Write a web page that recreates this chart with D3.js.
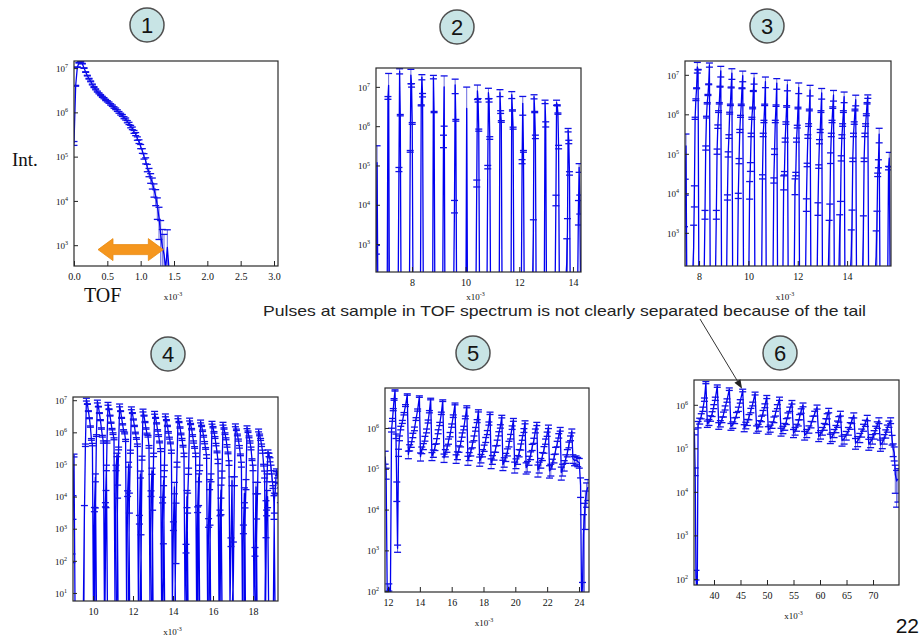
<!DOCTYPE html>
<html>
<head>
<meta charset="utf-8">
<script src="https://cdn.jsdelivr.net/npm/d3@7"></script>
<style>
  html, body { margin: 0; padding: 0; background: #fff; }
  svg { display: block; }
</style>
</head>
<body>
<svg id="slide" width="921" height="642"></svg>
<script>
// Intensities are stored as log10 values. A bin is either a number,
// [log10 value, relative error] or null for an empty bin.

// ---- (1) direct beam: single pulse ----
const tof1 = [0.000,0.025,0.050,0.075,0.100,0.125,0.150,0.175,0.200,0.225,0.250,0.275,0.300,0.325,0.350,0.375,0.400,0.425,0.450,0.475,0.500,0.525,0.550,0.575,0.600,0.625,0.650,0.675,0.700,0.725,0.750,0.775,0.800,0.825,0.850,0.875,0.900,0.925,0.950,0.975,1.000,1.025,1.050,1.075,1.100,1.125,1.150,1.175,1.200,1.225,1.250,1.275,1.300,1.325,1.350,1.375,1.400,1.425];
const int1 = [5.30,6.60,7.02,7.12,7.14,7.10,7.00,6.91,6.83,6.76,6.70,6.63,6.57,6.52,6.47,6.43,6.39,6.35,6.32,6.28,6.25,6.22,6.18,6.15,6.11,6.08,6.04,6.00,5.96,5.93,5.88,5.85,5.79,5.75,5.68,5.64,5.56,5.51,5.41,5.34,5.23,5.13,5.01,4.91,4.75,4.65,4.52,4.41,4.26,4.11,3.89,3.63,3.24,2.96,2.80,null,[2.95,1.5],null];

// ---- (2) pulse train ----
const pulseTof2 = [6.70,7.13,7.54,7.96,8.37,8.80,9.20,9.61,10.04,10.44,10.85,11.28,11.72,12.13,12.55,12.96,13.39,13.82,14.23];
const pulseInt2 = [
  [[2.87,0.25],[5.07,1.7]],
  [[6.72,0.08],[7.04,1.0]],
  [[4.9,0.12],[7.40,0.15],6.28],
  [[5.36,0.05],[7.30,0.4],[7.04,0.1],6.07],
  [6.53,[7.25,0.15],[6.79,0.1]],
  [[7.25,0.1],6.36],
  [[5.64,0.35],[7.0,0.9]],
  [[3.98,0.35],[7.05,0.4],[6.15,0.05]],
  [[6.45,2.5]],
  [[4.55,0.2],[6.9,0.4],[6.66,0.1],5.9],
  [[4.96,0.1],[6.85,0.3],[6.66,0.1],5.7],
  [[6.85,0.2],[6.36,0.08],6.12],
  [[6.8,0.2],6.4,5.95],
  [[5.1,0.12],[6.58,0.5],[5.36,0.05]],
  [3.26,[6.75,0.12],6.36,[5.73,0.1]],
  [[6.62,0.1],[6.05,0.15]],
  [[4.13,0.3],[6.6,0.15],6.53,6.32,5.47],
  [2.54,3.3,[5.9,0.1],[5.6,0.1],[4.8,0.1]],
  [3.9,[4.95,0.25],4.07]
];

// ---- (3) pulse train ----
const pulseTof3 = [7.47,7.93,8.42,8.88,9.33,9.77,10.23,10.69,11.15,11.58,12.04,12.50,12.97,13.45,13.88,14.35,14.84,15.30,15.71];
const pulseInt3 = [
  [2.57,4.2,[5.2,1.0]],
  [2.63,4.0,5.9,[6.37,0.05],6.66,[7.2,0.3],7.13],
  [[3.47,0.25],[5.15,0.12],[5.93,0.05],6.28,6.49,6.76,[7.25,0.12]],
  [[3.47,0.25],[5.06,0.15],[5.69,0.1],6.07,6.28,6.7,[7.1,0.3]],
  [[3.9,0.15],[4.99,0.15],5.44,6.03,6.24,6.68,[7.04,0.3]],
  [[3.94,0.15],[4.82,0.15],5.58,5.95,6.24,6.66,[6.98,0.3]],
  [4.13,4.68,5.48,5.90,6.16,6.59,[6.92,0.3]],
  [[4.42,0.12],5.48,5.82,6.24,[6.83,0.3]],
  [[4.33,0.15],5.06,5.82,6.22,[6.79,0.3]],
  [4.30,[4.51,0.1],5.35,5.78,6.2,[6.75,0.3]],
  [4.21,[4.49,0.1],5.35,5.69,6.16,[6.68,0.3]],
  [[3.73,0.35],[4.72,0.1],5.44,5.73,6.11,[6.62,0.3]],
  [[3.63,0.35],[4.68,0.1],5.31,5.58,6.07,[6.54,0.3]],
  [2.82,3.41,[4.91,0.3],5.48,5.82,6.17,[6.49,0.3]],
  [3.03,3.50,[4.89,0.15],5.44,5.73,6.07,[6.45,0.3]],
  [2.44,3.20,[4.85,0.1],5.48,5.78,6.11,[6.37,0.3]],
  [2.99,[4.85,0.1],5.48,5.73,5.99,6.28,[6.45,0.1]],
  [2.40,3.16,[4.47,0.1],4.76,[5.5,0.4]],
  [[4.64,0.1],[4.89,0.4]]
];

// ---- (4) pulse train with tails ----
const pulseTof4 = [9.05,9.67,10.22,10.75,11.33,11.92,12.50,13.08,13.62,14.25,14.83,15.38,15.95,16.50,17.12,17.70,18.28,18.75,19.17];
const pulseInt4 = [
  [[2.1,0.3],3.8,[5.28,0.1]],
  [3.4,5.6,[7.02,0.1],6.88,6.66,6.44,6.18,[5.78,0.06],5.62,null,[3.6,0.15],4.6],
  [3.3,5.9,[6.96,0.1],6.80,6.60,6.38,6.12,[5.88,0.06],5.70,null,[3.75,0.15],4.9],
  [4.0,5.7,[6.89,0.1],6.72,6.52,6.30,6.10,[5.96,0.06],5.80,null,4.9,5.3],
  [4.2,5.5,[6.84,0.1],6.66,6.45,6.25,6.06,[5.98,0.06],5.75,null,[4.1,0.2],5.0],
  [3.9,5.4,[6.75,0.1],6.60,6.40,6.20,5.98,[5.81,0.06],5.60,null,[3.3,0.3],4.7],
  [2.0,5.2,[6.68,0.1],6.52,6.32,6.12,5.95,[5.88,0.06],5.55,null,[4.1,0.2],4.8],
  [3.2,5.3,[6.61,0.1],6.45,6.28,6.06,5.90,[5.70,0.06],5.45,null,[3.9,0.2],4.5],
  [1.5,4.9,[6.53,0.1],6.38,6.20,6.00,5.82,[5.67,0.06],5.40,null,[3.1,0.3],4.3],
  [3.5,5.0,[6.47,0.1],6.32,6.15,5.95,5.78,[5.57,0.06],5.30,null,[2.4,0.3],4.0],
  [3.9,4.8,[6.40,0.1],6.26,6.10,5.90,5.70,[5.53,0.06],5.30,null,[3.6,0.2],4.6],
  [3.4,4.9,[6.34,0.1],6.20,6.05,5.88,5.68,[5.50,0.06],5.25,null,[3.2,0.3],4.4],
  [2.5,4.6,[6.30,0.1],6.16,6.00,5.84,5.62,[5.39,0.06],5.10,null,[3.5,0.2],4.2],
  [3.0,4.7,[6.27,0.1],6.12,5.96,5.80,5.58,[5.36,0.06],5.05,null,[2.6,0.3],4.5],
  [1.6,4.5,[6.22,0.1],6.08,5.92,5.76,5.55,[5.30,0.06],5.00,null,[3.0,0.3],4.1],
  [3.3,4.4,[6.16,0.1],6.02,5.86,5.70,5.50,[5.15,0.06],4.90,null,[2.3,0.3],4.3],
  [2.8,4.3,[6.06,0.1],5.92,5.78,5.60,5.40,[4.98,0.06],4.70,null,[3.5,0.2],4.0],
  [3.6,4.6,[5.41,0.1],5.30,5.15,4.90,4.60,[4.30,0.1],3.80],
  [3.9,4.3,[4.82,0.1],4.70,4.55,4.30,4.10]
];

// ---- (5) overlapping pulses ----
const tof5 = [11.82,11.88,11.95,12.05,12.15,12.22,12.28,12.33,12.38,12.44,
  12.50,12.55,12.60,12.66,12.72,12.80,12.90,13.00,13.10,13.21,
  13.28,13.36,13.46,13.56,13.66,13.76,13.86,13.97,
  14.04,14.12,14.22,14.32,14.42,14.52,14.60,14.68,
  14.76,14.85,14.95,15.05,15.15,15.25,15.35,15.44,
  15.52,15.60,15.70,15.80,15.90,16.00,16.10,16.21,
  16.28,16.36,16.46,16.56,16.66,16.76,16.86,16.95,
  17.02,17.10,17.20,17.30,17.40,17.50,17.60,17.68,
  17.76,17.84,17.94,18.04,18.14,18.24,18.34,18.41,
  18.48,18.56,18.66,18.76,18.86,18.96,19.06,19.15,
  19.22,19.30,19.40,19.50,19.60,19.70,19.80,19.88,
  19.96,20.04,20.14,20.24,20.34,20.44,20.54,20.61,
  20.68,20.76,20.86,20.96,21.06,21.16,21.26,21.35,
  21.42,21.50,21.60,21.70,21.80,21.90,22.00,22.08,
  22.15,22.23,22.33,22.43,22.53,22.63,22.73,22.82,
  22.89,22.97,23.07,23.17,23.27,23.37,23.47,23.55,
  23.62,23.72,23.82,23.92,24.02,24.10,24.16,24.22,24.28,24.34,24.40,24.48,24.56];
const int5 = [[5.30,0.35],[4.9,0.3],null,[2.1,0.2],null,5.95,6.2,6.45,6.7,6.92,
  5.8,[4.5,0.5],[3.05,0.2],5.4,5.75,6.0,6.15,6.35,6.55,6.82,
  5.35,5.52,5.6,5.82,5.98,6.22,6.44,6.77,
  5.3,5.46,5.55,5.74,5.93,6.16,6.4,6.71,
  5.31,5.38,5.53,5.68,5.91,6.1,6.36,6.67,
  5.27,5.39,5.49,5.67,5.84,6.06,6.29,6.59,
  5.25,5.33,5.49,5.61,5.83,6.0,6.26,6.52,
  5.21,5.31,5.41,5.59,5.75,5.97,6.17,6.42,
  5.19,5.26,5.39,5.51,5.71,5.89,6.11,6.36,
  5.14,5.23,5.32,5.49,5.64,5.86,6.04,6.28,
  5.1,5.17,5.29,5.41,5.61,5.79,6.01,6.2,
  5.05,5.14,5.23,5.39,5.54,5.76,5.94,6.14,
  5.03,5.07,5.21,5.33,5.53,5.69,5.93,6.1,
  4.97,5.05,5.15,5.31,5.47,5.67,5.85,6.03,
  4.95,4.99,5.13,5.26,5.45,5.61,5.81,5.97,
  4.91,4.99,5.09,5.25,5.39,5.59,5.75,5.93,
  5.25,5.2,5.22,5.18,5.15,4.6,null,[2.1,0.3],3.4,3.8,4.2,4.45,4.55];

// ---- (6) overlapping pulses, long flight path ----
const tof6 = [36.30,36.45,36.60,36.70,36.85,
  37.00,37.30,37.60,37.90,38.20,38.47,
  38.75,39.05,39.35,39.65,39.95,40.25,40.62,
  40.90,41.20,41.50,41.80,42.10,42.45,42.89,
  43.20,43.55,43.90,44.25,44.60,44.95,45.42,
  45.70,46.00,46.30,46.60,46.95,47.30,47.75,
  48.05,48.35,48.65,48.95,49.25,49.60,49.96,
  50.25,50.60,50.95,51.30,51.60,51.95,52.36,
  52.65,53.00,53.35,53.65,53.95,54.30,54.70,
  55.00,55.30,55.60,55.90,56.15,56.45,56.79,
  57.10,57.50,57.90,58.30,58.65,59.00,59.44,
  59.75,60.10,60.45,60.80,61.10,61.35,61.64,
  61.95,62.30,62.65,63.00,63.30,63.55,63.85,
  64.15,64.55,64.95,65.35,65.70,66.00,66.37,
  66.70,67.10,67.50,67.85,68.20,68.55,68.91,
  69.20,69.55,69.90,70.20,70.50,70.80,71.11,
  71.40,71.75,72.10,72.40,72.70,73.00,73.32,
  73.60,73.80,74.00,74.20,74.45,74.70];
const int6 = [[5.38,0.15],[4.47,0.2],[2.1,0.25],null,null,
  5.55,5.63,5.74,5.9,6.12,6.51,
  5.56,5.6,5.69,5.79,5.96,6.14,6.43,
  5.52,5.57,5.66,5.78,5.93,6.1,6.36,
  5.5,5.54,5.64,5.77,5.9,6.08,6.33,
  5.47,5.53,5.6,5.72,5.87,6.02,6.26,
  5.44,5.48,5.57,5.68,5.82,5.98,6.18,
  5.42,5.46,5.54,5.66,5.8,5.96,6.14,
  5.38,5.43,5.5,5.62,5.76,5.9,6.06,
  5.35,5.4,5.48,5.59,5.72,5.86,6.0,
  5.3,5.35,5.44,5.55,5.68,5.8,5.95,
  5.27,5.32,5.4,5.5,5.62,5.74,5.87,
  5.23,5.27,5.35,5.45,5.56,5.67,5.8,
  5.18,5.22,5.3,5.4,5.52,5.64,5.76,
  5.12,5.17,5.25,5.36,5.48,5.58,5.7,
  5.1,5.15,5.22,5.32,5.43,5.54,5.64,
  5.08,5.13,5.22,5.34,5.46,5.56,5.64,
  5.2,4.98,4.9,4.4,4.25,4.3];

// ---- axis ticks ----
const xTicks1 = [0, 0.5, 1, 1.5, 2, 2.5, 3];
const xTicks2 = [8, 10, 12, 14];
const xTicks3 = [8, 10, 12, 14];
const xTicks4 = [10, 12, 14, 16, 18];
const xTicks5 = [12, 14, 16, 18, 20, 22, 24];
const xTicks6 = [40, 45, 50, 55, 60, 65, 70];
const yExp1 = [3, 4, 5, 6, 7];
const yExp2 = [3, 4, 5, 6, 7];
const yExp3 = [3, 4, 5, 6, 7];
const yExp4 = [1, 2, 3, 4, 5, 6, 7];
const yExp5 = [2, 3, 4, 5, 6];
const yExp6 = [2, 3, 4, 5, 6];

const caption = "Pulses at sample in TOF spectrum is not clearly separated because of the tail";

// ---------------------------------------------------------------
function toPoint(x, bin) {
  if (bin == null) return { x, y: null, r: null };
  if (Array.isArray(bin)) return { x, y: Math.pow(10, bin[0]), r: bin[1] };
  return { x, y: Math.pow(10, bin), r: null };
}
function seriesPoints(xs, bins) {
  return d3.zip(xs, bins).map(([x, b]) => toPoint(x, b));
}
// bins of each pulse are placed one bin width apart, the highest bin at the pulse position
function pulsePoints(tofs, bins, bw) {
  const pts = [];
  tofs.forEach((t, i) => {
    const b = bins[i];
    let k = 0, best = -Infinity;
    b.forEach((e, j) => {
      const v = e == null ? -Infinity : (Array.isArray(e) ? e[0] : e);
      if (v > best) { best = v; k = j; }
    });
    pts.push({ x: t + (-k - 1) * bw, y: null, r: null });
    b.forEach((e, j) => pts.push(toPoint(t + (j - k) * bw, e)));
    pts.push({ x: t + (b.length - k) * bw, y: null, r: null });
  });
  return pts;
}

const panels = [
  { id: 1, frame: { x: 74, y: 61, w: 204, h: 205 }, xDom: [0, 3.06], yLog: [2.53, 7.16],
    xTicks: xTicks1, fmt: d3.format(".1f"), yExp: yExp1, counts: 2000, noteDy: 34,
    points: seriesPoints(tof1, int1), badge: [147, 25] },
  { id: 2, frame: { x: 376, y: 68, w: 205, h: 204 }, xDom: [6.66, 14.30], yLog: [2.29, 7.48],
    xTicks: xTicks2, fmt: d3.format("d"), yExp: yExp2, counts: 3000, noteDy: 28,
    points: pulsePoints(pulseTof2, pulseInt2, 0.025), badge: [457, 27] },
  { id: 3, frame: { x: 685, y: 61, w: 206, h: 205 }, xDom: [7.43, 15.78], yLog: [2.16, 7.35],
    xTicks: xTicks3, fmt: d3.format("d"), yExp: yExp3, counts: 3000, noteDy: 34,
    points: pulsePoints(pulseTof3, pulseInt3, 0.03), badge: [767, 26] },
  { id: 4, frame: { x: 73, y: 397, w: 205, h: 204 }, xDom: [9.0, 19.25], yLog: [0.75, 7.1],
    xTicks: xTicks4, fmt: d3.format("d"), yExp: yExp4, counts: 3000, noteDy: 34,
    points: pulsePoints(pulseTof4, pulseInt4, 0.05), badge: [168, 354] },
  { id: 5, frame: { x: 385, y: 388, w: 204, h: 204 }, xDom: [11.81, 24.63], yLog: [1.98, 6.98],
    xTicks: xTicks5, fmt: d3.format("d"), yExp: yExp5, counts: 10000, noteDy: 34,
    points: seriesPoints(tof5, int5), badge: [473, 353] },
  { id: 6, frame: { x: 694, y: 380, w: 205, h: 205 }, xDom: [36.23, 74.9], yLog: [1.86, 6.57],
    xTicks: xTicks6, fmt: d3.format("d"), yExp: yExp6, counts: 10000, noteDy: 34,
    points: seriesPoints(tof6, int6), badge: [780, 353] }
];

const svg = d3.select("#slide");
const serif = "'Liberation Serif','Times New Roman',serif";
const sans = "'Liberation Sans',Arial,sans-serif";
const LINE = "#0000f0", BAR = "#4646d8", CAP = "#1010e6";

function drawPanel(p) {
  const f = p.frame;
  const g = svg.append("g");
  const xs = d3.scaleLinear().domain(p.xDom).range([f.x, f.x + f.w]);
  const yMin = Math.pow(10, p.yLog[0]);
  const ys = d3.scaleLog().domain([yMin, Math.pow(10, p.yLog[1])]).range([f.y + f.h, f.y]);
  p.xs = xs; p.ys = ys;
  const base = f.y + f.h + 3;

  svg.append("clipPath").attr("id", "clip" + p.id)
    .append("rect").attr("x", f.x).attr("y", f.y).attr("width", f.w).attr("height", f.h);
  const plot = g.append("g").attr("clip-path", `url(#clip${p.id})`);

  const bars = p.points.filter(d => d.y != null).map(d => {
    const s = d.r != null ? d.r * d.y : Math.sqrt(p.counts * d.y);
    const lo = d.y - s;
    return { x: xs(d.x), top: ys(d.y + s), bot: lo > yMin ? ys(lo) : base, lowCap: lo > yMin };
  });

  plot.selectAll("line.bar").data(bars).join("line")
    .attr("x1", d => d.x).attr("x2", d => d.x)
    .attr("y1", d => d.top).attr("y2", d => d.bot)
    .attr("stroke", BAR).attr("stroke-opacity", 0.8).attr("stroke-width", 1);

  plot.append("path").datum(p.points)
    .attr("d", d3.line().x(d => xs(d.x)).y(d => d.y == null ? base : ys(d.y)))
    .attr("fill", "none").attr("stroke", LINE).attr("stroke-width", 1.3)
    .attr("stroke-linejoin", "round");

  const caps = [];
  bars.forEach(b => { caps.push({ x: b.x, y: b.top }); if (b.lowCap) caps.push({ x: b.x, y: b.bot }); });
  plot.selectAll("line.cap").data(caps).join("line")
    .attr("x1", d => d.x - 3.5).attr("x2", d => d.x + 3.5)
    .attr("y1", d => d.y).attr("y2", d => d.y)
    .attr("stroke", CAP).attr("stroke-width", 1.3);

  // axes with inward ticks
  const xa = g.append("g").attr("transform", `translate(0,${f.y + f.h})`)
    .call(d3.axisBottom(xs).tickValues(p.xTicks).tickFormat(p.fmt)
      .tickSizeInner(-5).tickSizeOuter(0).tickPadding(7));
  xa.attr("font-family", null);
  xa.select(".domain").remove();
  xa.selectAll("line").attr("stroke", "#222");
  xa.selectAll("text").style("font-family", serif).style("font-size", "10px").attr("fill", "#111");

  const ya = g.append("g").attr("transform", `translate(${f.x},0)`)
    .call(d3.axisLeft(ys).tickValues(p.yExp.map(e => Math.pow(10, e)))
      .tickSizeInner(-4).tickSizeOuter(0).tickPadding(6).tickFormat(() => ""));
  ya.attr("font-family", null);
  ya.select(".domain").remove();
  ya.selectAll("line").attr("stroke", "#222");
  ya.selectAll("text").each(function (d) {
    const t = d3.select(this).style("font-family", serif).attr("fill", "#111");
    t.append("tspan").style("font-size", "9px").text("10");
    t.append("tspan").style("font-size", "6px").attr("dy", "-0.6em").text(Math.round(Math.log10(d)));
  });

  g.append("rect").attr("x", f.x).attr("y", f.y).attr("width", f.w).attr("height", f.h)
    .attr("fill", "none").attr("stroke", "#2a2a2a").attr("stroke-width", 1.2);

  // x10^-3 scale note
  const note = g.append("text").attr("x", f.x + f.w / 2 - 3).attr("y", f.y + f.h + p.noteDy)
    .attr("text-anchor", "middle").style("font-family", serif).attr("fill", "#111");
  note.append("tspan").style("font-size", "9px").text("x10");
  note.append("tspan").style("font-size", "6px").attr("dy", "-0.7em").text("-3");

  // numbered badge
  svg.append("circle").attr("cx", p.badge[0]).attr("cy", p.badge[1]).attr("r", 17)
    .attr("fill", "#c8e4e5").attr("stroke", "#505050").attr("stroke-width", 1.5);
  svg.append("text").attr("x", p.badge[0]).attr("y", p.badge[1] + 8)
    .attr("text-anchor", "middle").style("font-family", sans).style("font-size", "22px")
    .attr("fill", "#151515").text(p.id);
}

panels.forEach(drawPanel);

// orange range arrow in the first panel (TOF 0.36 .. 1.34, at 10^2.9)
(function () {
  const p = panels[0];
  const x0 = p.xs(0.36), x1 = p.xs(1.34), y = p.ys(Math.pow(10, 2.9));
  const hl = 15, bh = 5, hh = 11;
  const pts = [[x0, y], [x0 + hl, y - hh], [x0 + hl, y - bh], [x1 - hl, y - bh], [x1 - hl, y - hh],
    [x1, y], [x1 - hl, y + hh], [x1 - hl, y + bh], [x0 + hl, y + bh], [x0 + hl, y + hh]];
  svg.append("polygon").attr("points", pts.map(q => q.join(",")).join(" "))
    .attr("fill", "#f5961e").attr("stroke", "#e98a10").attr("stroke-width", 0.8);
})();

// side labels
svg.append("text").attr("x", 12).attr("y", 166).style("font-family", serif)
  .style("font-size", "19px").attr("fill", "#111").text("Int.");
svg.append("text").attr("x", 84).attr("y", 302).style("font-family", serif)
  .style("font-size", "20px").attr("fill", "#111").text("TOF");

// caption and pointer to the pulse in panel 6
svg.append("text").attr("x", 263).attr("y", 316).style("font-family", sans)
  .style("font-size", "15px").attr("fill", "#222")
  .attr("textLength", 603).attr("lengthAdjust", "spacingAndGlyphs").text(caption);

(function () {
  const p = panels[5];
  const tx = p.xs(45.3), ty = p.ys(Math.pow(10, 6.37));
  const sx = 700, sy = 319;
  const ang = Math.atan2(ty - sy, tx - sx);
  const L = 9, Wd = 3.5;
  const bx = tx - L * Math.cos(ang), by = ty - L * Math.sin(ang);
  svg.append("line").attr("x1", sx).attr("y1", sy).attr("x2", bx).attr("y2", by)
    .attr("stroke", "#333").attr("stroke-width", 1);
  svg.append("polygon").attr("points", [
    [tx, ty],
    [bx + Wd * Math.sin(ang), by - Wd * Math.cos(ang)],
    [bx - Wd * Math.sin(ang), by + Wd * Math.cos(ang)]
  ].map(q => q.join(",")).join(" ")).attr("fill", "#222");
})();

// page number
svg.append("text").attr("x", 919).attr("y", 633).attr("text-anchor", "end")
  .style("font-family", sans).style("font-size", "21px").attr("fill", "#111").text("22");
</script>
</body>
</html>
